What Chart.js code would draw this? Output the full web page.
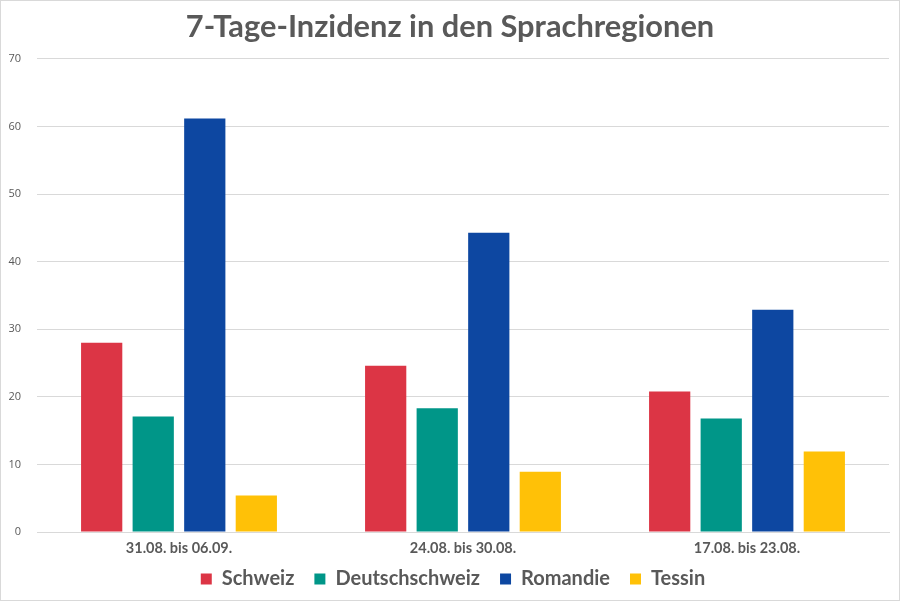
<!DOCTYPE html>
<html>
<head>
<meta charset="utf-8">
<script src="https://cdn.jsdelivr.net/npm/chart.js@4"></script>
<style>
    html, body { margin: 0; padding: 0; background: #fff; }
    #wrap { width: 898px; height: 599px; border: 1px solid #d9d9d9; }
</style>
</head>
<body>
<div id="wrap"><canvas id="myChart" width="898" height="599"></canvas></div>
<script>
// Wochen (Kategorien)
const weeks = ['31.08. bis 06.09.', '24.08. bis 30.08.', '17.08. bis 23.08.'];

// 7-Tage-Inzidenz pro Sprachregion
const schweiz = [28.0, 24.6, 20.8];
const deutschschweiz = [17.1, 18.3, 16.8];
const romandie = [61.2, 44.3, 32.9];
const tessin = [5.4, 8.9, 11.9];

const textColor = '#595959';
const gridColor = '#d9d9d9';

// pull the legend closer to the axis labels and center title/legend on the page
const layoutNudge = {
    id: 'layoutNudge',
    afterLayout: function (chart) {
        chart.legend.top -= 8.4;
        chart.legend.bottom -= 8.4;
        chart.legend.left += 5;
        chart.legend.right += 5;
        chart.titleBlock.left += 2;
        chart.titleBlock.right += 2;
    }
};

const ctx = document.getElementById('myChart').getContext('2d');

window.myChart = new Chart(ctx, {
    type: 'bar',
    data: {
        labels: weeks,
        datasets: [
            { label: 'Schweiz', data: schweiz, backgroundColor: '#dc3545' },
            { label: 'Deutschschweiz', data: deutschschweiz, backgroundColor: '#009688' },
            { label: 'Romandie', data: romandie, backgroundColor: '#0d47a1' },
            { label: 'Tessin', data: tessin, backgroundColor: '#ffc107' }
        ]
    },
    plugins: [layoutNudge],
    options: {
        responsive: false,
        animation: false,
        layout: {
            padding: { left: 6, right: 10, top: 0, bottom: -7.4 }
        },
        datasets: {
            bar: {
                categoryPercentage: 0.726,
                barPercentage: 0.8
            }
        },
        plugins: {
            title: {
                display: true,
                text: '7-Tage-Inzidenz in den Sprachregionen',
                color: textColor,
                font: { family: 'Lato', size: 30.8, weight: 'bold' },
                padding: { top: 8, bottom: 13 }
            },
            legend: {
                position: 'bottom',
                labels: {
                    color: textColor,
                    font: { family: 'Lato', size: 20, weight: 'bold' },
                    boxWidth: 11,
                    boxHeight: 11,
                    padding: 20
                }
            },
            tooltip: { enabled: false }
        },
        scales: {
            x: {
                afterFit: function (axis) { axis.height = 25.4; },
                grid: { display: false, drawTicks: false },
                border: { display: true, color: gridColor },
                ticks: {
                    color: textColor,
                    font: { family: 'Lato', size: 14.5, weight: 'bold' },
                    padding: 8
                }
            },
            y: {
                min: 0,
                max: 70,
                afterFit: function (axis) { axis.width = 30; },
                grid: { color: gridColor, drawTicks: false },
                border: { display: false },
                ticks: {
                    stepSize: 10,
                    color: textColor,
                    font: { family: 'Open Sans', size: 11 },
                    padding: 16
                }
            }
        }
    }
});
</script>
</body>
</html>
